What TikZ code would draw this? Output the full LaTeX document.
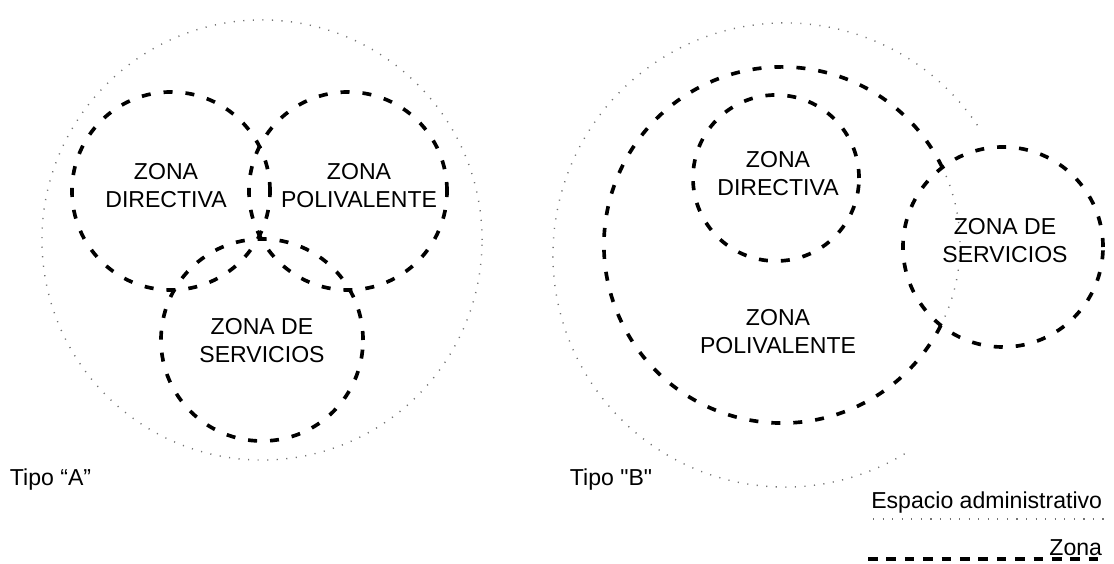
\documentclass[tikz,border=0pt]{standalone}
\usepackage{fontspec}
\setmainfont{Liberation Sans}
\newfontfamily\plainquotes{Liberation Sans}
\usepackage{tikz}
\usetikzlibrary{positioning}

\begin{document}
\begin{tikzpicture}[x=0.025cm, y=0.025cm, every node/.style={font=\fontsize{16.4}{19.9}\selectfont, align=center}]
\tikzstyle{zone}=[draw, circle, inner sep=0pt, outer sep=0pt, line width=2.6pt, dash pattern=on 0.225cm off 0.325cm]
\tikzstyle{zoneline}=[line width=2.6pt, dash pattern=on 0.225cm off 0.325cm]
\tikzstyle{espacio}=[black!55, line width=1pt, dash pattern=on 0.8pt off 6pt]
\useasboundingbox (0,0) rectangle (1114,564);

% Tipo A
\coordinate (cEspA) at (262,324);
\draw[espacio] (cEspA) circle[radius=5.5cm];
\node[zone, minimum size=4.95cm] (dirA) at (171,373) {};
\node[zone, minimum size=4.95cm] (polA) at (348,373) {};
\node[zone, minimum size=5.05cm] (serA) at (262,224) {};
\node (tDirA) at (166,378) {ZONA\\DIRECTIVA};
\node (tPolA) at (359,378) {ZONA\\POLIVALENTE};
\node (tSerA) at (262,223) {ZONA DE\\SERVICIOS};
\node[anchor=west] (tipoA) at (5,84) {Tipo “A”};

% Tipo B
\coordinate (cEspB) at (785,309);
\draw[espacio] (cEspB) ++(34:5.8cm) arc[start angle=34, end angle=302, radius=5.8cm];
\coordinate (cPolB) at (782,319);
\draw[zoneline] (cPolB) ++(25.8:4.45cm) arc[start angle=25.8, end angle=333.2, radius=4.45cm];
\draw[espacio] (cPolB) ++(-26.8:4.45cm) arc[start angle=-26.8, end angle=25.8, radius=4.45cm];
\node[zone, minimum size=4.15cm] (dirB) at (776,386) {};
\node[zone, minimum size=5cm] (serB) at (1003,317) {};
\node (tDirB) at (778,390) {ZONA\\DIRECTIVA};
\node (tPolB) at (778,232) {ZONA\\POLIVALENTE};
\node (tSerB) at (1005,323) {ZONA DE\\SERVICIOS};
\node[anchor=west] (tipoB) at (565,84) {\plainquotes Tipo "B"};

% leyenda
\node[anchor=east] (legEsp) at (1107,61) {Espacio administrativo};
\coordinate (espL) at (873,45);
\coordinate (espR) at (1107,45);
\draw[espacio] (espL) -- (espR);
\node[anchor=east] (legZona) at (1107,16) {Zona};
\coordinate (zonaL) at (868,5);
\coordinate (zonaR) at (1107,5);
\draw[line width=2.6pt, dash pattern=on 0.24cm off 0.22cm] (zonaL) -- (zonaR);
\end{tikzpicture}
\end{document}
